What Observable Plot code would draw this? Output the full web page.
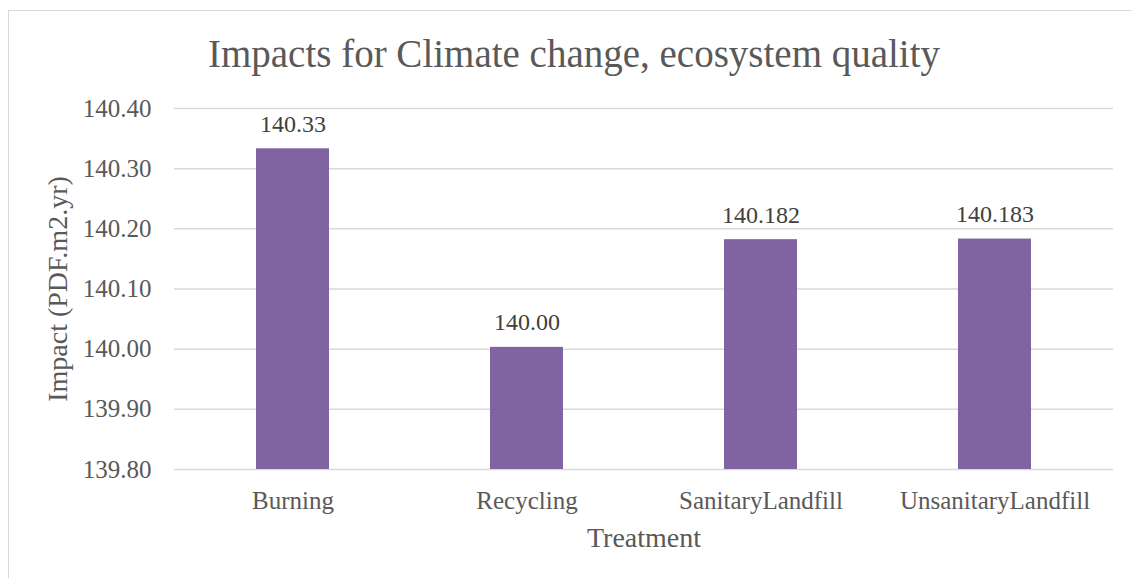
<!DOCTYPE html>
<html>
<head>
<meta charset="utf-8">
<script src="https://cdn.jsdelivr.net/npm/d3@7"></script>
<script src="https://cdn.jsdelivr.net/npm/@observablehq/plot@0.6"></script>
<style>
  html, body { margin: 0; padding: 0; background: #fff; overflow: hidden; }
  body { width: 1132px; height: 578px; position: relative; font-family: "Liberation Serif", serif; }
  #frame { position: absolute; left: 8px; top: 10px; width: 1200px; height: 600px; border: 1px solid #d9d9d9; box-sizing: border-box; }
  #title { position: absolute; left: 8px; width: 1132px; top: 34px; text-align: center; font-size: 39px; line-height: 39px; color: #595959; white-space: nowrap; }
  #chart { position: absolute; left: 0; top: 0; }
  #ytitle { position: absolute; width: 400px; height: 28px; left: -142.5px; top: 274.5px; text-align: center;
            font-size: 28px; line-height: 28px; color: #595959; white-space: nowrap; transform: rotate(-90deg); transform-origin: 50% 50%; }
</style>
</head>
<body>
<div id="frame"></div>
<div id="title">Impacts for Climate change, ecosystem quality</div>
<div id="chart"></div>
<div id="ytitle"></div>
<script>
// Treatment options and their impact scores
const treatments = ["Burning", "Recycling", "SanitaryLandfill", "UnsanitaryLandfill"];
const impacts = [140.333, 140.003, 140.182, 140.183];
const labelDecimals = [2, 2, 3, 3];
const yTicks = [139.8, 139.9, 140.0, 140.1, 140.2, 140.3, 140.4];
const xTitle = "Treatment";
const yTitle = "Impact (PDF.m2.yr)";

const rows = treatments.map((t, i) => ({treatment: t, impact: impacts[i], decimals: labelDecimals[i]}));

const chart = Plot.plot({
  width: 1132,
  height: 578,
  marginLeft: 174,
  marginRight: 19,
  marginTop: 108,
  marginBottom: 109,
  style: {fontFamily: "'Liberation Serif', serif", color: "#595959", background: "transparent"},
  x: {domain: treatments, paddingInner: 0.686, paddingOuter: 0.343, label: null},
  y: {domain: [yTicks[0], yTicks[yTicks.length - 1]], label: null},
  marks: [
    Plot.gridY(yTicks, {stroke: "#d9d9d9", strokeOpacity: 1, strokeWidth: 1.5}),
    Plot.barY(rows, {x: "treatment", y1: yTicks[0], y2: "impact", fill: "#8064A2"}),
    Plot.text(rows, {
      x: "treatment", y: "impact",
      text: d => d.impact.toFixed(d.decimals),
      lineAnchor: "bottom", dy: -17, fontSize: 24, fill: "#404040"
    }),
    Plot.axisY(yTicks, {tickSize: 0, tickPadding: 23, tickFormat: d => d.toFixed(2), fontSize: 25, label: null}),
    Plot.axisX({tickSize: 0, tickPadding: 22, fontSize: 25, label: null}),
    Plot.text([xTitle], {frameAnchor: "bottom", lineAnchor: "bottom", dy: 77, fontSize: 28, fill: "#595959"})
  ]
});
document.getElementById("chart").appendChild(chart);
document.getElementById("ytitle").textContent = yTitle;
</script>
</body>
</html>
